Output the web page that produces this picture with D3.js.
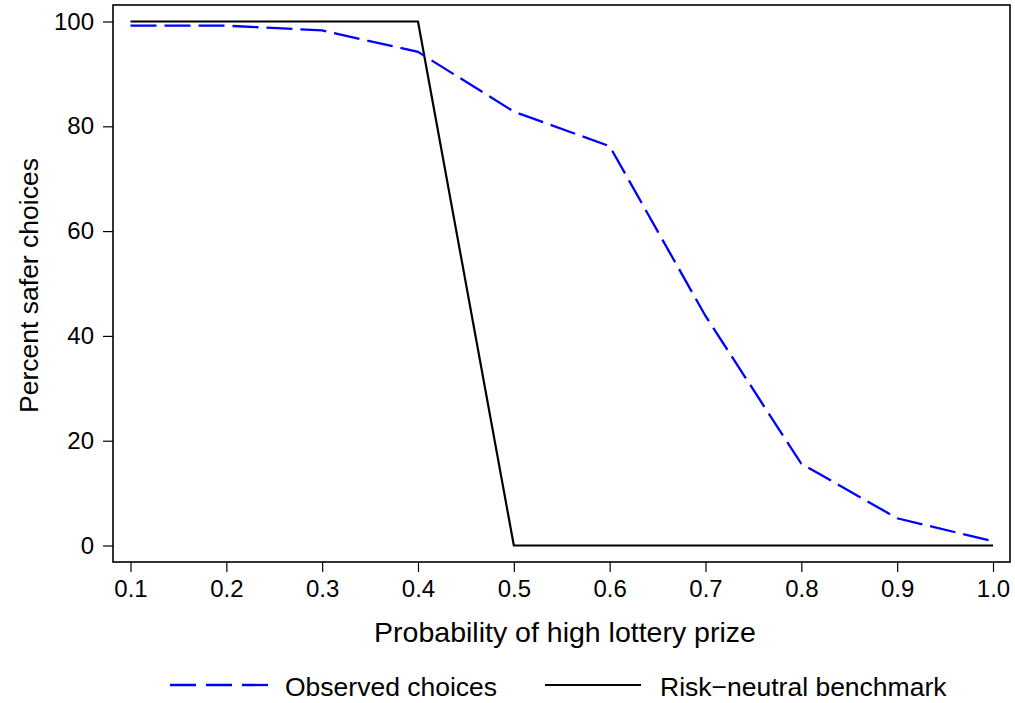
<!DOCTYPE html>
<html>
<head>
<meta charset="utf-8">
<script src="https://cdn.jsdelivr.net/npm/d3@7"></script>
<style>
  body { margin: 0; background: #fff; }
  text { font-family: "Liberation Sans", Arial, sans-serif; fill: #000; }
</style>
</head>
<body>
<div id="draw"></div>
<script>
// probabilities of the high prize (x axis)
const probs = [0.1, 0.2, 0.3, 0.4, 0.5, 0.6, 0.7, 0.8, 0.9, 1.0];
// observed share of safer choices, percent
const observed = [99.2, 99.2, 98.3, 94.2, 82.8, 76.2, 43.8, 15.6, 5.2, 0.8];
// risk neutral benchmark, percent
const benchmark = [100, 100, 100, 100, 0, 0, 0, 0, 0, 0];
const yTicks = [0, 20, 40, 60, 80, 100];
const seriesNames = ['Observed choices', 'Risk\u2212neutral benchmark'];

let width = 1015,
    height = 703;

let svg = d3.select('#draw')
    .append('svg')
    .attr('width', width)
    .attr('height', height);

let box = { left: 113, top: 5, right: 1010, bottom: 562 };

let xScale = d3.scaleLinear().domain([0.1, 1.0]).range([130.5, 993]),
    yScale = d3.scaleLinear().domain([0, 100]).range([545.5, 21.5]);

// frame
svg.append('rect')
    .attr('x', box.left)
    .attr('y', box.top)
    .attr('width', box.right - box.left)
    .attr('height', box.bottom - box.top)
    .attr('fill', 'none')
    .attr('stroke', '#000')
    .attr('stroke-width', 1.6);

// y axis
let yAxis = svg.append('g')
    .attr('transform', 'translate(' + box.left + ',0)')
    .call(d3.axisLeft(yScale).tickValues(yTicks).tickSize(10).tickPadding(9).tickFormat(d3.format('d')));
yAxis.select('.domain').remove();
yAxis.selectAll('line').attr('stroke-width', 1.2);
yAxis.selectAll('text').style('font-size', '24px').style('font-family', '"Liberation Sans", Arial, sans-serif');

// x axis
let xAxis = svg.append('g')
    .attr('transform', 'translate(0,' + box.bottom + ')')
    .call(d3.axisBottom(xScale).tickValues(probs).tickSize(10).tickPadding(8).tickFormat(d3.format('.1f')));
xAxis.select('.domain').remove();
xAxis.selectAll('line').attr('stroke-width', 1.2);
xAxis.selectAll('text').style('font-size', '24px').style('font-family', '"Liberation Sans", Arial, sans-serif');

svg.append('text')
    .attr('x', 565)
    .attr('y', 641.5)
    .attr('text-anchor', 'middle')
    .style('font-size', '28.5px')
    .text('Probability of high lottery prize');

svg.append('text')
    .attr('transform', 'translate(38,' + 285.5 + ') rotate(-90)')
    .attr('text-anchor', 'middle')
    .style('font-size', '26.5px')
    .text('Percent safer choices');

let line = d3.line()
    .x(d => xScale(d[0]))
    .y(d => yScale(d[1]));

svg.append('path')
    .datum(probs.map((p, i) => [p, benchmark[i]]))
    .attr('d', line)
    .attr('fill', 'none')
    .attr('stroke', '#000')
    .attr('stroke-width', 2.2);

svg.append('path')
    .datum(probs.map((p, i) => [p, observed[i]]))
    .attr('d', line)
    .attr('fill', 'none')
    .attr('stroke', '#0000ff')
    .attr('stroke-width', 2.3)
    .attr('stroke-dasharray', '26,8');

// legend
let legend = svg.append('g');
legend.append('line')
    .attr('x1', 170).attr('x2', 268)
    .attr('y1', 685).attr('y2', 685)
    .attr('stroke', '#0000ff')
    .attr('stroke-width', 2.3)
    .attr('stroke-dasharray', '26,10');
legend.append('text')
    .attr('x', 285).attr('y', 695.5)
    .style('font-size', '26.5px')
    .text(seriesNames[0]);
legend.append('line')
    .attr('x1', 545).attr('x2', 641)
    .attr('y1', 685).attr('y2', 685)
    .attr('stroke', '#000')
    .attr('stroke-width', 2.2);
legend.append('text')
    .attr('x', 660).attr('y', 695.5)
    .style('font-size', '26.5px')
    .text(seriesNames[1]);
</script>
</body>
</html>
